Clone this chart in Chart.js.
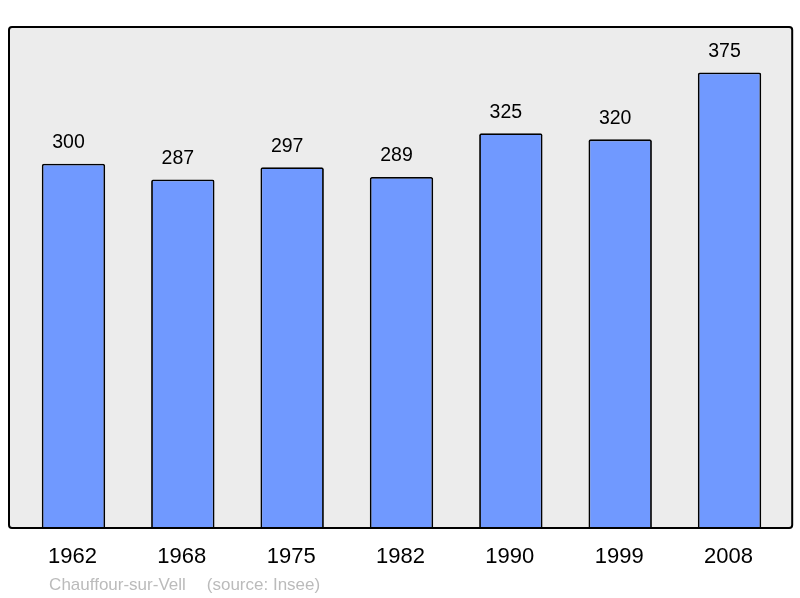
<!DOCTYPE html>
<html>
<head>
<meta charset="utf-8">
<script src="https://cdn.jsdelivr.net/npm/chart.js@4/dist/chart.umd.min.js"></script>
<style>
  html, body { margin: 0; padding: 0; background: #ffffff; }
  #wrap { width: 800px; height: 598px; position: relative; }
</style>
</head>
<body>
<div id="wrap"><canvas id="c" width="800" height="598"></canvas></div>
<script>
const years = ["1962", "1968", "1975", "1982", "1990", "1999", "2008"];
const population = [300, 287, 297, 289, 325, 320, 375];
const placeName = "Chauffour-sur-Vell";
const sourceNote = "(source: Insee)";
const yMax = 412.5;

const FONT = "'Liberation Sans', Arial, sans-serif";

const framePlugin = {
  id: 'frame',
  beforeDraw(chart) {
    const { ctx, chartArea: a } = chart;
    const x0 = a.left - 9.8, x1 = a.right + 8, y0 = a.top, y1 = a.bottom;
    ctx.save();
    ctx.beginPath();
    ctx.roundRect(x0, y0, x1 - x0, y1 - y0, 3);
    ctx.fillStyle = '#ececec';
    ctx.fill();
    ctx.restore();
  },
  afterDatasetsDraw(chart) {
    const { ctx, chartArea: a } = chart;
    const x0 = a.left - 9.8, x1 = a.right + 8, y0 = a.top, y1 = a.bottom;
    ctx.save();
    ctx.beginPath();
    ctx.roundRect(x0, y0, x1 - x0, y1 - y0, 3);
    ctx.lineWidth = 2;
    ctx.strokeStyle = '#000000';
    ctx.stroke();

    const xs = chart.scales.x, ys = chart.scales.y;
    ctx.fillStyle = '#000000';
    ctx.textAlign = 'center';
    ctx.textBaseline = 'middle';
    ctx.font = '19.5px ' + FONT;
    population.forEach((v, i) => {
      const x = xs.getPixelForValue(i) - 5;
      const y = ys.getPixelForValue(v) - 21;
      ctx.fillText(String(v), x, y);
    });
    ctx.font = '22px ' + FONT;
    years.forEach((lab, i) => {
      const x = xs.getPixelForValue(i) - 1;
      ctx.fillText(lab, x, a.bottom + 29);
    });
    ctx.font = '17px ' + FONT;
    ctx.fillStyle = '#bbbbbb';
    ctx.textAlign = 'left';
    ctx.fillText(placeName, a.left + 30.3, a.bottom + 57);
    ctx.fillText(sourceNote, a.left + 188, a.bottom + 57);
    ctx.restore();
  }
};

new Chart(document.getElementById('c'), {
  type: 'bar',
  data: {
    labels: years,
    datasets: [{
      data: population,
      backgroundColor: '#7099ff',
      borderColor: '#000000',
      borderWidth: 1.8,
      borderRadius: 2,
      borderSkipped: 'bottom',
      barPercentage: 0.58,
      categoryPercentage: 1.0
    }]
  },
  options: {
    responsive: false,
    animation: false,
    devicePixelRatio: 1,
    layout: { padding: { left: 18.8, right: 15.8, top: 27, bottom: 70 } },
    plugins: { legend: { display: false }, tooltip: { enabled: false } },
    scales: {
      x: { display: false, offset: true },
      y: { display: false, min: 0, max: yMax }
    }
  },
  plugins: [framePlugin]
});
</script>
</body>
</html>
